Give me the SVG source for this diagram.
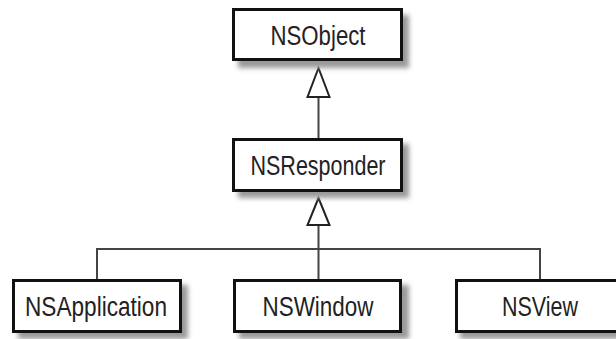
<svg xmlns="http://www.w3.org/2000/svg" width="616" height="339" viewBox="0 0 616 339">
<style>
.box{fill:#fff;stroke:#111;stroke-width:3}
.sh{fill:#9a9a9a;filter:url(#blur)}
.lbl{font-family:"Liberation Sans",Arial,sans-serif;font-size:27px;fill:#222;text-anchor:middle}
.ln{fill:none;stroke:#444;stroke-width:2}
.tri{fill:#fff;stroke:#222;stroke-width:2;stroke-linejoin:miter}
</style>
<defs>
<filter id="blur" x="-10%" y="-30%" width="120%" height="160%"><feGaussianBlur stdDeviation="2.5"/></filter>
</defs>
<rect width="616" height="339" fill="#fff"/>
<g id="connectors">
<path class="ln" d="M318.5 138V97"/>
<polygon class="tri" points="318.5,68 307.5,97 329.5,97"/>
<path class="ln" d="M318.5 279V225M97 279V249H540V279"/>
<polygon class="tri" points="318.5,198 307.5,225 329.5,225"/>
</g>
<g id="NSObject">
<rect class="sh" x="238" y="15" width="171" height="53"/>
<rect class="box" x="233.5" y="9.5" width="168" height="50"/>
<text class="lbl" x="318" y="45" textLength="95" lengthAdjust="spacingAndGlyphs">NSObject</text>
</g>
<g id="NSResponder">
<rect class="sh" x="238" y="144" width="171" height="54"/>
<rect class="box" x="233.5" y="139.5" width="168" height="51"/>
<text class="lbl" x="318" y="175" textLength="135" lengthAdjust="spacingAndGlyphs">NSResponder</text>
</g>
<g id="NSApplication">
<rect class="sh" x="18" y="285" width="170" height="54"/>
<rect class="box" x="13.5" y="280.5" width="167" height="51"/>
<text class="lbl" x="96" y="316" textLength="142" lengthAdjust="spacingAndGlyphs">NSApplication</text>
</g>
<g id="NSWindow">
<rect class="sh" x="239" y="285" width="170" height="54"/>
<rect class="box" x="234.5" y="280.5" width="166" height="51"/>
<text class="lbl" x="318" y="316" textLength="111" lengthAdjust="spacingAndGlyphs">NSWindow</text>
</g>
<g id="NSView">
<rect class="sh" x="460" y="285" width="170" height="54"/>
<rect class="box" x="456.5" y="280.5" width="168" height="51"/>
<text class="lbl" x="540" y="316" textLength="76" lengthAdjust="spacingAndGlyphs">NSView</text>
</g>
</svg>
